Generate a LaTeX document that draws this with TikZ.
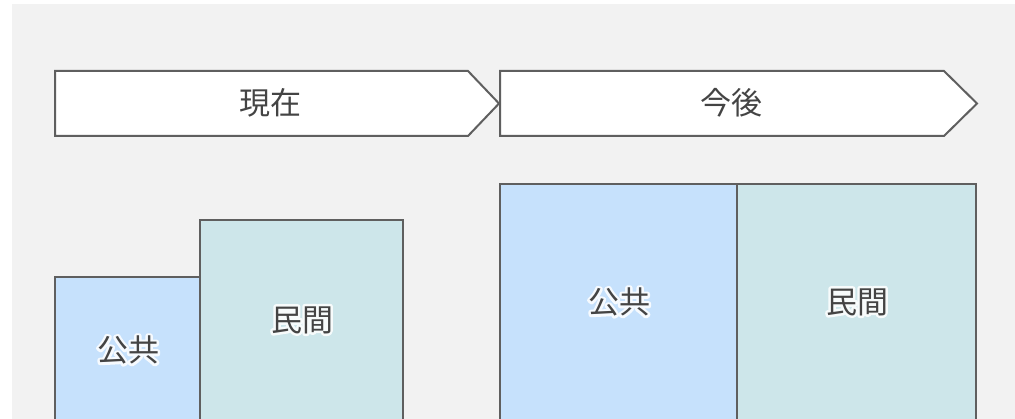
\documentclass[tikz,border=0pt]{standalone}
\usepackage{fontspec}
\newfontfamily\jp{Noto Sans CJK JP}
\definecolor{bg}{HTML}{F2F2F2}
\definecolor{edge}{HTML}{5F5F5F}
\definecolor{pub}{HTML}{C6E1FC}
\definecolor{priv}{HTML}{CDE6EA}
\definecolor{txt}{HTML}{444444}
\tikzset{
  frame/.style={draw=edge, line width=2pt, line join=miter},
  lbl/.style={font=\jp\fontsize{31}{31}\selectfont, text=txt, inner sep=0pt},
  halo/.style={font=\jp\fontsize{31}{31}\selectfont, text=white, inner sep=0pt, opacity=0.85},
}
\newcommand{\glowlabel}[3]{%
  \node[halo] at (#2) {\special{pdf:literal direct 1 Tr 5 w 1 J 1 j}#3};
  \node[lbl] (#1) at (#2) {#3};
}
\begin{document}
\begin{tikzpicture}[x=1pt,y=-1pt]
\useasboundingbox (0,0) rectangle (1015,419);
\fill[bg] (12,4) rectangle (1015,419);
% chevrons
\draw[frame, fill=white] (55,71) -- (468,71) -- (499,103.5) -- (468,136) -- (55,136) -- cycle;
\draw[frame, fill=white] (500,71) -- (944,71) -- (977,103.5) -- (944,136) -- (500,136) -- cycle;
\node[lbl] (now) at (270,103) {現在};
\node[lbl] (future) at (731,103) {今後};
% current boxes
\draw[frame, fill=pub] (55,430) -- (55,277) -- (200,277) -- (200,430);
\draw[frame, fill=priv] (200,430) -- (200,220) -- (403,220) -- (403,430);
% future boxes
\draw[frame, fill=pub] (500,430) -- (500,184) -- (737,184) -- (737,430);
\draw[frame, fill=priv] (737,430) -- (737,184) -- (976,184) -- (976,430);
\coordinate (p1) at (128,350);
\coordinate (p2) at (302,320);
\coordinate (p3) at (619,302);
\coordinate (p4) at (857,302);
\glowlabel{pubnow}{p1}{公共}
\glowlabel{privnow}{p2}{民間}
\glowlabel{pubfut}{p3}{公共}
\glowlabel{privfut}{p4}{民間}
\end{tikzpicture}
\end{document}
